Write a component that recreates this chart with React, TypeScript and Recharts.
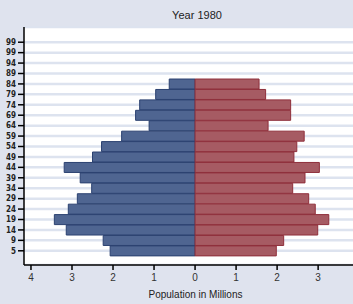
import React from 'react';
import { BarChart, Bar, XAxis, YAxis, CartesianGrid } from 'recharts';

// age group tick labels, top to bottom (as printed, clipped on the left)
const ageTicks = ['99', '99', '94', '89', '84', '79', '74', '69', '64', '59', '54', '49', '44', '39', '34', '29', '24', '19', '14', '9', '5'];
// millions, male shown to the left
const male = [null, null, null, null, 0.63, 0.96, 1.35, 1.45, 1.12, 1.79, 2.28, 2.5, 3.19, 2.8, 2.52, 2.87, 3.09, 3.43, 3.14, 2.24, 2.07];
const female = [null, null, null, null, 1.56, 1.72, 2.33, 2.33, 1.78, 2.66, 2.48, 2.41, 3.03, 2.68, 2.38, 2.77, 2.93, 3.26, 2.99, 2.16, 1.98];
const xTicks = [-4, -3, -2, -1, 0, 1, 2, 3];

const data = ageTicks.map((a, i) => ({
  row: i,
  male: male[i] == null ? null : -(male[i] as number),
  female: female[i],
}));

const App = () => {
  return (
    <div style={{ position: 'absolute', left: 0, top: 0, width: 353, height: 304, background: '#dfe3ee', fontFamily: '"Liberation Sans", Arial, sans-serif', overflow: 'hidden' }}>
      <div style={{ position: 'absolute', top: 9, left: 0, width: 394, textAlign: 'center', fontSize: 11, color: '#222' }}>Year 1980</div>
      <BarChart
        width={353}
        height={304}
        data={data}
        layout="vertical"
        stackOffset="sign"
        barCategoryGap="3%"
        margin={{ top: 27, right: 0, left: 0, bottom: 0 }}
      >
        <CartesianGrid vertical={false} stroke="#dde3ef" strokeWidth={2.5} fill="#ffffff" />
        <XAxis
          type="number"
          domain={[-4.17, 3.85]}
          allowDataOverflow
          ticks={xTicks}
          tickFormatter={(v: number) => String(Math.abs(v))}
          height={39}
          stroke="#000"
          strokeWidth={1.5}
          tickSize={5}
          tick={{ fontSize: 10, fill: '#333', dy: 2 }}
          label={{ value: 'Population in Millions', position: 'insideBottom', offset: 6, dx: 7, fontSize: 10, fill: '#222' }}
        />
        <YAxis
          type="category"
          dataKey="row"
          width={24}
          padding={{ top: 10, bottom: 9 }}
          tickFormatter={(v: number) => ageTicks[v]}
          interval={0}
          stroke="#000"
          strokeWidth={1.5}
          tickSize={6}
          tick={{ fontSize: 8, fill: '#222', fontWeight: 'bold', fontFamily: '"DejaVu Sans Condensed", "Liberation Sans Narrow", sans-serif' }}
        />
        <Bar dataKey="male" stackId="p" fill="#4f6591" stroke="#2b4170" strokeWidth={1} isAnimationActive={false} />
        <Bar dataKey="female" stackId="p" fill="#a65b63" stroke="#8f2f3b" strokeWidth={1} isAnimationActive={false} />
      </BarChart>
    </div>
  );
};

export default App;
